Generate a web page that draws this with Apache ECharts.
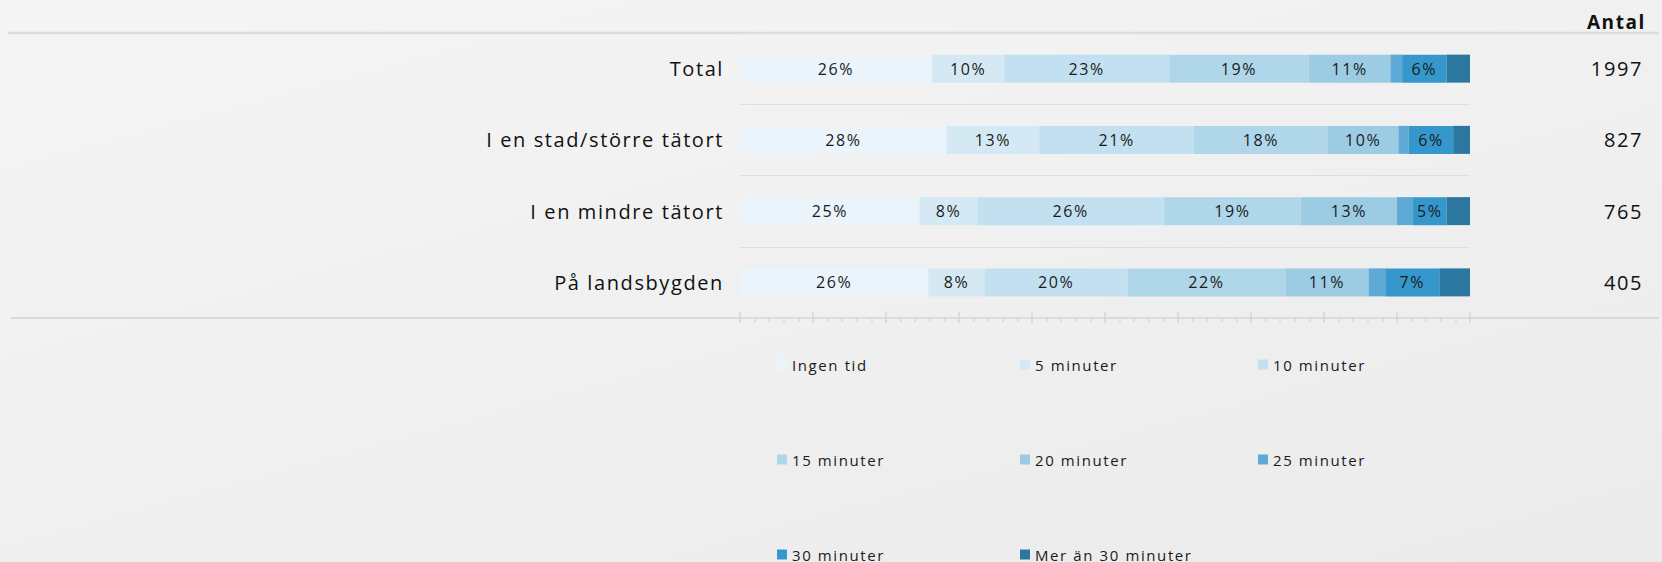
<!DOCTYPE html>
<html>
<head>
<meta charset="utf-8">
<script src="https://cdn.jsdelivr.net/npm/echarts@6/dist/echarts.min.js"></script>
<style>
  html, body { margin: 0; padding: 0; }
  body { background: linear-gradient(165deg, #f5f5f5 0%, #ebebeb 100%); }
  #chart { width: 1662px; height: 562px; }
  /* svg renderer -> the text gets the spaced-out look of the original */
  #chart text { letter-spacing: 1.6px; }
</style>
</head>
<body>
<div id="chart"></div>
<script>
const categories = ['Total', 'I en stad/större tätort', 'I en mindre tätort', 'På landsbygden'];
const antal = ['1997', '827', '765', '405'];
const seriesNames = ['Ingen tid', '5 minuter', '10 minuter', '15 minuter', '20 minuter', '25 minuter', '30 minuter', 'Mer än 30 minuter'];

// percent per category, same order as categories
const ingenTid = [26.3, 28.3, 24.6, 25.8];
const min5 = [9.9, 12.7, 7.9, 7.7];
const min10 = [22.6, 21.2, 25.6, 19.6];
const min15 = [19.1, 18.3, 18.7, 21.6];
const min20 = [11.2, 9.7, 13.2, 11.4];
const min25 = [1.6, 1.4, 2.2, 2.3];
const min30 = [6.1, 6.1, 4.6, 7.4];
const over30 = [3.2, 2.3, 3.2, 4.2];

const xTicks = [0, 100, 10];  // min, max, interval

const colors = ['#eaf4fa', '#d5e9f4', '#c3e0f0', '#b0d6ea', '#9ccce4', '#5ea9d5', '#3697cc', '#2c77a0'];
const values = [ingenTid, min5, min10, min15, min20, min25, min30, over30];
const noLabel = ['25 minuter', 'Mer än 30 minuter'];

const font = '"Open Sans", sans-serif';
const chart = echarts.init(document.getElementById('chart'), null, { renderer: 'svg' });

const legendBase = {
  orient: 'vertical',
  top: 357,
  height: 215,
  padding: 0,
  itemGap: 80,
  icon: 'rect',
  itemWidth: 10,
  itemHeight: 10,
  selectedMode: false,
  textStyle: { fontFamily: font, fontSize: 15, color: '#1a1a1a', lineHeight: 14 }
};

chart.setOption({
  backgroundColor: 'transparent',
  title: {
    text: 'Antal',
    right: 19,
    top: 7,
    textStyle: { fontFamily: font, fontSize: 19, fontWeight: 'bold', color: '#111' }
  },
  legend: [
    Object.assign({}, legendBase, { left: 777, data: ['Ingen tid', '15 minuter', '30 minuter'] }),
    Object.assign({}, legendBase, { left: 1020, data: ['5 minuter', '20 minuter', 'Mer än 30 minuter'] }),
    Object.assign({}, legendBase, { left: 1258, data: ['10 minuter', '25 minuter'] })
  ],
  grid: { left: 740, right: 192, top: 33, bottom: 244 },
  xAxis: [{
    type: 'value',
    min: xTicks[0], max: xTicks[1], interval: xTicks[2],
    axisLine: { show: false },
    axisLabel: { show: false },
    splitLine: { show: false },
    axisTick: { show: true, length: 5, lineStyle: { color: '#d4d4d4', width: 1.5 } },
    minorTick: { show: true, splitNumber: 5, length: 4, lineStyle: { color: '#d8d8d8', width: 1.5 } }
  }, {
    type: 'value',
    position: 'bottom',
    min: xTicks[0], max: xTicks[1], interval: xTicks[2],
    axisLine: { show: false },
    axisLabel: { show: false },
    splitLine: { show: false },
    axisTick: { show: true, inside: true, length: 6, lineStyle: { color: '#d4d4d4', width: 1.5 } }
  }],
  yAxis: [{
    type: 'category',
    data: categories,
    inverse: true,
    axisLine: { show: false },
    axisTick: { show: false },
    splitLine: { show: true, lineStyle: { color: '#dfdfdf', width: 1 } },
    axisLabel: { margin: 16, fontFamily: font, fontSize: 20, color: '#111' }
  }, {
    type: 'category',
    data: antal,
    inverse: true,
    position: 'right',
    axisLine: { show: false },
    axisTick: { show: false },
    axisLabel: { margin: 173, align: 'right', fontFamily: font, fontSize: 20, color: '#111' }
  }],
  series: seriesNames.map((name, i) => ({
    name: name,
    type: 'bar',
    stack: 'all',
    barWidth: 28,
    xAxisIndex: 0,
    yAxisIndex: 0,
    itemStyle: { color: colors[i] },
    label: {
      show: !noLabel.includes(name),
      position: 'inside',
      fontFamily: font,
      fontSize: 16,
      color: '#1b1b1b',
      formatter: p => Math.round(p.value) + '%'
    },
    emphasis: { disabled: true },
    data: values[i]
  })),
  graphic: [
    { type: 'line', shape: { x1: 8, y1: 33, x2: 1659, y2: 33 }, style: { stroke: '#dcdcdc', lineWidth: 2.5 }, z: 0 },
    { type: 'line', shape: { x1: 11, y1: 318, x2: 1659, y2: 318 }, style: { stroke: '#d9d9d9', lineWidth: 2 }, z: 0 }
  ]
});
</script>
</body>
</html>
